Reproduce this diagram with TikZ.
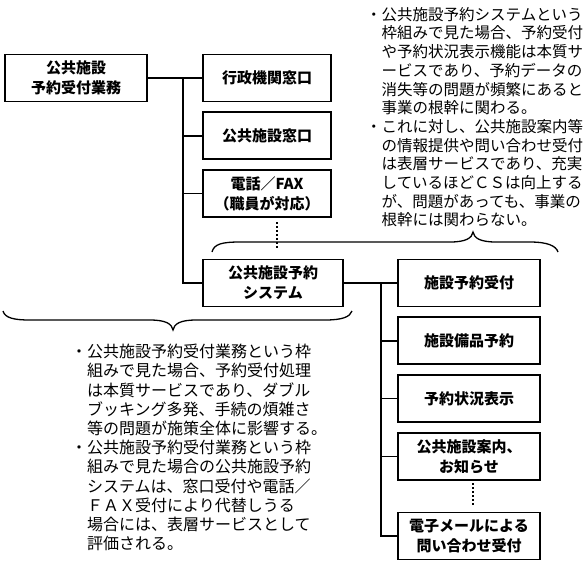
\documentclass[tikz,border=0pt]{standalone}
\usepackage{fontspec}
\setmainfont{Noto Sans CJK JP}
\usetikzlibrary{positioning}

\begin{document}
\begin{tikzpicture}[x=1pt,y=-1pt,node distance=9pt,
  box/.style={draw,line width=1.8pt,minimum height=47pt,inner sep=2pt,align=center,font=\fontsize{15}{20}\selectfont\bfseries},
  leftbox/.style={box,minimum width=128pt},
  rightbox/.style={box,minimum width=142pt},
  conn/.style={line width=1.4pt},
  vdots/.style={line width=2.6pt,dash pattern=on 2pt off 2pt},
  brace/.style={line width=1.3pt},
  note/.style={anchor=north west,inner sep=0pt,align=left}]
\useasboundingbox (0,0) rectangle (585,566);

\node[box,minimum width=142pt] (root) at (76,78) {公共施設\\予約受付業務};
\node[leftbox] (adm) at (267,78) {行政機関窓口};
\node[leftbox,below=of adm] (win) {公共施設窓口};
\node[leftbox,below=of win] (tel) {電話／FAX\\（職員が対応）};
\node[box,minimum width=140pt] (sys) at (273,283) {公共施設予約\\システム};

\node[rightbox] (rsv) at (469,283) {施設予約受付};
\node[rightbox,below=of rsv] (equ) {施設備品予約};
\node[rightbox,below=of equ] (sts) {予約状況表示};
\node[rightbox,below=of sts] (inf) {公共施設案内、\\お知らせ};
\node[rightbox] (mail) at (469,536) {電子メールによる\\問い合わせ受付};

\coordinate (j1) at (183,78);
\coordinate (j2) at (381,283);
\draw[conn] (root) -- (adm);
\foreach \n in {win,tel,sys}
  \draw[conn] (j1) |- (\n.west);
\draw[conn] (sys) -- (rsv);
\foreach \n in {equ,sts,inf,mail}
  \draw[conn] (j2) |- (\n.west);

\draw[vdots] (277,222) -- (277,248);
\draw[vdots] (473,483) -- (473,506);

% braces
\draw[brace] (212,252) .. controls (214,244) and (222,242) .. (240,242) -- (450,242)
  .. controls (466,242) and (472,238) .. (473,232) .. controls (474,238) and (480,242) .. (496,242)
  -- (530,242) .. controls (548,242) and (556,246) .. (558,252);
\draw[brace] (3,311) .. controls (5,318) and (14,320) .. (30,320) -- (150,320)
  .. controls (166,320) and (172,324) .. (173,330) .. controls (174,324) and (180,320) .. (196,320)
  -- (325,320) .. controls (342,320) and (350,317) .. (352,311);

\node[note,font=\fontsize{15.5}{18.7}\selectfont] (topnote) at (366,7) {・公共施設予約システムという\\
　枠組みで見た場合、予約受付\\
　や予約状況表示機能は本質サ\\
　ービスであり、予約データの\\
　消失等の問題が頻繁にあると\\
　事業の根幹に関わる。\\
・これに対し、公共施設案内等\\
　の情報提供や問い合わせ受付\\
　は表層サービスであり、充実\\
　しているほどＣＳは向上する\\
　が、問題があっても、事業の\\
　根幹には関わらない。};
\node[note,font=\fontsize{16}{19.2}\selectfont] (botnote) at (71,344) {・公共施設予約受付業務という枠\\
　組みで見た場合、予約受付処理\\
　は本質サービスであり、ダブル\\
　ブッキング多発、手続の煩雑さ\\
　等の問題が施策全体に影響する。\\
・公共施設予約受付業務という枠\\
　組みで見た場合の公共施設予約\\
　システムは、窓口受付や電話／\\
　ＦＡＸ受付により代替しうる\\
　場合には、表層サービスとして\\
　評価される。};
\end{tikzpicture}
\end{document}
